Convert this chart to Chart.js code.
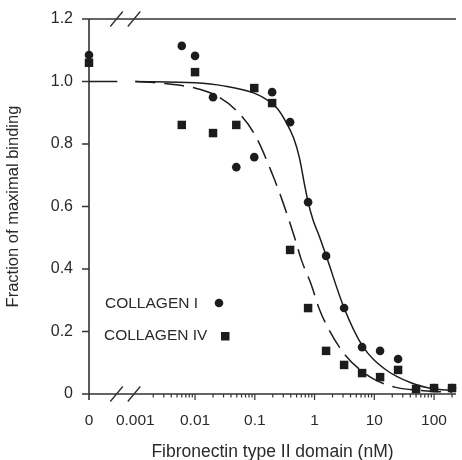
<!DOCTYPE html>
<html lang="en">
  <head>
    <meta charset="UTF-8" />
    <title>Fibronectin binding</title>
    <style>
      * { margin: 0; padding: 0; box-sizing: border-box; }
      body { background: #fff; }
      .wrap { width: 462px; height: 460px; position: relative; }
    </style>
  </head>
  <body>
    <div class="wrap"><canvas id="chart"></canvas></div>

    <script src="https://cdn.jsdelivr.net/npm/chart.js"></script>
    <script>
      // concentrations (nM) of the dilution series
      const conc = [0.006, 0.01, 0.02, 0.049, 0.098, 0.195, 0.39, 0.78, 1.56, 3.125, 6.25, 12.5, 25, 50, 100, 200];
      const collagenI = [1.114, 1.082, 0.95, 0.726, 0.758, 0.966, 0.87, 0.614, 0.442, 0.275, 0.15, 0.138, 0.112, 0.016, 0.019, 0.019];
      const collagenIV = [0.861, 1.03, 0.835, 0.861, 0.979, 0.931, 0.461, 0.275, 0.138, 0.093, 0.067, 0.054, 0.077, 0.016, 0.019, 0.019];
      // values measured with no fibronectin domain (plotted at "0")
      const zeroI = 1.085;
      const zeroIV = 1.06;

      // fitted curves
      const fitConcI = [0.001, 0.01, 0.03, 0.1, 0.16, 0.234, 0.318, 0.447, 0.56, 0.68, 0.78, 0.95, 1.2, 1.56, 3.1, 6.3, 15, 42, 100, 200];
      const fitI = [1.0, 0.996, 0.986, 0.962, 0.941, 0.915, 0.877, 0.819, 0.755, 0.67, 0.614, 0.555, 0.505, 0.443, 0.277, 0.155, 0.08, 0.035, 0.016, 0.012];
      const fitConcIV = [0.001, 0.003, 0.01, 0.02, 0.048, 0.1, 0.2, 0.3, 0.465, 0.6, 0.885, 1.2, 1.75, 3.3, 6.3, 10.4, 22, 53, 100, 200];
      const fitIV = [1.0, 0.994, 0.979, 0.96, 0.909, 0.83, 0.7, 0.61, 0.5, 0.43, 0.349, 0.272, 0.205, 0.123, 0.072, 0.045, 0.022, 0.012, 0.008, 0.006];
      const fitZero = 1.0;

      const xTicks = [0, 0.001, 0.01, 0.1, 1, 10, 100];
      const xTickLabels = ["0", "0.001", "0.01", "0.1", "1", "10", "100"];
      const yTicks = [0, 0.2, 0.4, 0.6, 0.8, 1.0, 1.2];

      // where "0" sits on the broken log axis, and where the break starts
      const ZERO_AT = 1.68e-4;
      const BREAK_AT = 5.0e-4;
      const X_MAX = 233;

      const INK = "#1c1c1c";
      const AXIS = "#333";
      const FONT = "'Liberation Sans', Arial, sans-serif";

      const px = (v) => (v === 0 ? ZERO_AT : v);

      const points = (vals, zero) =>
        [{ x: ZERO_AT, y: zero }].concat(conc.map((c, i) => ({ x: c, y: vals[i] })));
      const curve = (xs, ys) => xs.map((c, i) => ({ x: c, y: ys[i] }));

      const axisDecor = {
        id: "axisDecor",
        beforeDatasetsDraw(chart) {
          const { ctx, chartArea: a, scales } = chart;
          const x = scales.x, y = scales.y;
          ctx.save();
          ctx.strokeStyle = AXIS;
          ctx.lineWidth = 1.6;
          ctx.beginPath();
          ctx.moveTo(a.left, a.top);
          ctx.lineTo(a.left, a.bottom + 6);
          ctx.moveTo(a.left - 7, a.top);
          ctx.lineTo(a.right, a.top);
          ctx.moveTo(a.left - 7, a.bottom);
          ctx.lineTo(a.right, a.bottom);
          yTicks.forEach((v) => {
            const py = y.getPixelForValue(v);
            ctx.moveTo(a.left - 7, py);
            ctx.lineTo(a.left, py);
          });
          ctx.stroke();

          // log ticks
          ctx.lineWidth = 1.2;
          ctx.beginPath();
          for (let d = 0.001; d <= 100.5; d *= 10) {
            for (let m = 1; m <= 9; m++) {
              const v = d * m;
              if (v > X_MAX || v < 0.0015) continue;
              const p = x.getPixelForValue(v);
              ctx.moveTo(p, a.bottom);
              ctx.lineTo(p, a.bottom + (m === 1 ? 6 : 3.5));
            }
          }
          ctx.stroke();

          // axis breaks
          const b = x.getPixelForValue(0.001);
          ctx.lineWidth = 1.4;
          ctx.beginPath();
          [a.top, a.bottom].forEach((py) => {
            [b - 19, b - 1.5].forEach((cx) => {
              ctx.moveTo(cx - 6, py + 7.5);
              ctx.lineTo(cx + 6.5, py - 7.5);
            });
          });
          ctx.stroke();
          ctx.restore();
        },
        afterDatasetsDraw(chart) {
          const { ctx } = chart;
          ctx.save();
          ctx.fillStyle = "#2a2a2a";
          ctx.font = "15.5px " + FONT;
          ctx.textBaseline = "middle";
          ctx.fillText("COLLAGEN I", 105, 304);
          ctx.fillText("COLLAGEN IV", 104, 336);
          ctx.fillStyle = INK;
          ctx.beginPath();
          ctx.arc(219, 303, 4.3, 0, Math.PI * 2);
          ctx.fill();
          ctx.fillRect(221, 332, 8.5, 8.5);
          ctx.restore();
        },
      };

      Chart.defaults.font.family = FONT;
      Chart.defaults.color = "#2a2a2a";

      new Chart(document.getElementById("chart"), {
        type: "line",
        data: {
          datasets: [
            {
              label: "COLLAGEN IV",
              data: points(collagenIV, zeroIV),
              showLine: false,
              pointStyle: "rect",
              pointRadius: 6,
              pointBackgroundColor: INK,
              pointBorderWidth: 0,
              clip: false,
            },
            {
              label: "COLLAGEN I",
              data: points(collagenI, zeroI),
              showLine: false,
              pointStyle: "circle",
              pointRadius: 4.3,
              pointBackgroundColor: INK,
              pointBorderWidth: 0,
              clip: false,
            },
            {
              label: "fit I",
              data: curve(fitConcI, fitI),
              borderColor: INK,
              borderWidth: 1.5,
              pointRadius: 0,
              cubicInterpolationMode: "monotone",
            },
            {
              label: "fit IV",
              data: curve(fitConcIV, fitIV),
              borderColor: INK,
              borderWidth: 1.5,
              borderDash: [20, 9],
              pointRadius: 0,
              cubicInterpolationMode: "monotone",
            },
            {
              label: "fit at 0",
              data: [{ x: ZERO_AT, y: fitZero }, { x: BREAK_AT, y: fitZero }],
              borderColor: INK,
              borderWidth: 1.5,
              pointRadius: 0,
            },
          ],
        },
        options: {
          responsive: true,
          maintainAspectRatio: false,
          animation: false,
          layout: { padding: { top: 19, right: 0, left: 0, bottom: 0 } },
          plugins: { legend: { display: false }, tooltip: { enabled: false } },
          scales: {
            x: {
              type: "logarithmic",
              min: ZERO_AT,
              max: X_MAX,
              grid: { display: false, drawTicks: false },
              border: { display: false },
              afterBuildTicks: (s) => {
                s.ticks = xTicks.map((v) => ({ value: px(v) }));
              },
              afterFit: (s) => {
                s.height = 66;
                s.paddingLeft = 0;
                s.paddingRight = 0;
              },
              ticks: {
                autoSkip: false,
                maxRotation: 0,
                padding: 17,
                font: { size: 15.5 },
                callback: function (value) {
                  const i = xTicks.findIndex((v) => Math.abs(px(v) - value) < 1e-9);
                  return i >= 0 ? xTickLabels[i] : "";
                },
              },
              title: {
                display: true,
                text: "Fibronectin type II domain (nM)",
                font: { size: 17.5, lineHeight: 1 },
                padding: { top: 0, bottom: -1 },
              },
            },
            y: {
              min: 0,
              max: 1.2,
              grid: { display: false, drawTicks: false },
              border: { display: false },
              afterFit: (s) => {
                s.width = 89;
                s.paddingTop = 0;
                s.paddingBottom = 0;
              },
              ticks: {
                stepSize: 0.2,
                padding: 16,
                font: { size: 16 },
                callback: (v) => (v === 0 ? "0" : v.toFixed(1)),
              },
              title: {
                display: true,
                text: "Fraction of maximal binding",
                font: { size: 16.5, lineHeight: 1.2 },
                padding: { top: 4, bottom: 0 },
              },
            },
          },
        },
        plugins: [axisDecor],
      });
    </script>
  </body>
</html>
